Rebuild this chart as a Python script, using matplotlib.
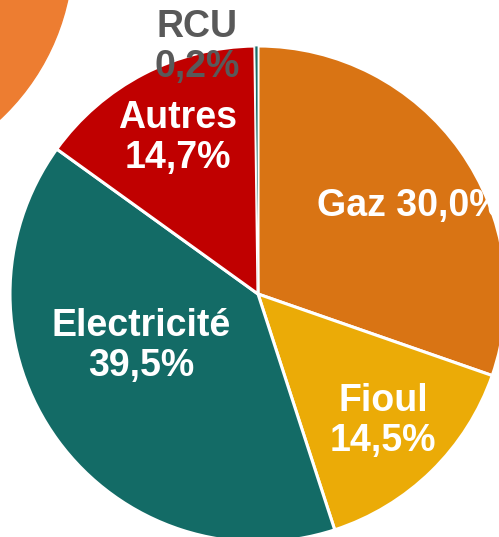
import matplotlib
matplotlib.use('Agg')
import matplotlib.pyplot as plt
from matplotlib.patches import Circle

# Répartition par énergie (%)
energies = ['Gaz', 'Fioul', 'Electricité', 'Autres', 'RCU']
parts = [30.0, 14.5, 39.5, 14.7, 0.2]
couleurs = ['#D97414', '#EBAB07', '#136B66', '#C00000', '#1A6E6A']
etiquettes = ['Gaz 30,0%', 'Fioul\n14,5%', 'Electricité\n39,5%', 'Autres\n14,7%', 'RCU\n0,2%']

W, H = 499, 537
fig = plt.figure(figsize=(W / 100, H / 100), dpi=100)
ax = fig.add_axes([0, 0, 1, 1])

# cercle orange en haut à gauche (décor)
ax.add_patch(Circle((-157, H + 49), 230, color='#ED7D31', zorder=0))

cx, cy, r = 258, H - 294, 248
wedges, _ = ax.pie(parts, colors=couleurs, startangle=90, counterclock=False,
                   center=(cx, cy), radius=r, frame=True,
                   wedgeprops=dict(edgecolor='white', linewidth=2.2))
# la tranche RCU est très fine : on la garde visible
wedges[4].set_linewidth(0.6)
wedges[4].set_zorder(3)

ax.set_xlim(0, W)
ax.set_ylim(0, H)
ax.set_aspect('equal')
ax.axis('off')

# positions des étiquettes (pixels)
pos = [(317, 206, 'left'), (383, 421, 'center'), (141, 346, 'center'),
       (178, 138, 'center'), (197, 47, 'center')]
for txt, (x, y, ha), e in zip(etiquettes, pos, energies):
    col = '#595959' if e == 'RCU' else 'white'
    ax.text(x, H - y, txt, ha=ha, va='center', color=col,
            fontsize=27, fontweight='bold', family='Liberation Sans',
            linespacing=1.16, zorder=5)

fig.savefig('out.png', dpi=100)
